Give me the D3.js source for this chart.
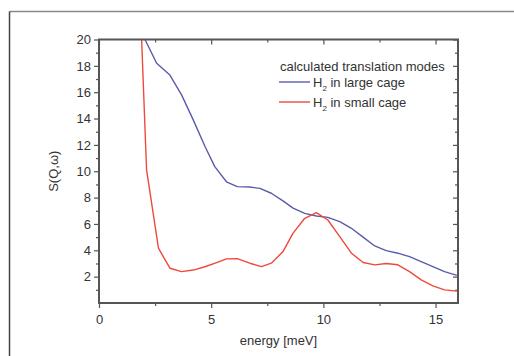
<!DOCTYPE html>
<html>
<head>
<meta charset="utf-8">
<script src="https://cdn.jsdelivr.net/npm/d3@7"></script>
<style>
  html, body { margin: 0; padding: 0; background: #fff; }
  svg { display: block; font-family: "Liberation Sans", Arial, sans-serif; }
</style>
</head>
<body>
<svg id="chart" width="514" height="356"></svg>
<script>
// Calculated translation modes of H2 in clathrate cages
const energyLarge = [2.05, 2.57, 3.16, 3.68, 4.2, 4.72, 5.16, 5.68, 6.16, 6.72, 7.17, 7.68, 8.2, 8.65, 9.17, 9.69, 10.2, 10.73, 11.25, 11.77, 12.29, 12.8, 13.32, 13.84, 14.36, 14.88, 15.4, 15.95];
const sqwLarge    = [20.0, 18.2, 17.3, 15.8, 13.9, 11.9, 10.35, 9.2, 8.83, 8.8, 8.7, 8.33, 7.75, 7.2, 6.8, 6.6, 6.5, 6.18, 5.67, 5.0, 4.33, 3.98, 3.78, 3.52, 3.14, 2.76, 2.38, 2.1];
const energySmall = [1.9, 2.12, 2.65, 3.16, 3.68, 4.2, 4.72, 5.24, 5.68, 6.16, 6.72, 7.24, 7.68, 8.2, 8.65, 9.17, 9.69, 10.2, 10.73, 11.25, 11.77, 12.29, 12.8, 13.32, 13.84, 14.36, 14.88, 15.4, 15.95];
const sqwSmall    = [20.0, 10.1, 4.16, 2.64, 2.38, 2.5, 2.75, 3.07, 3.35, 3.37, 3.02, 2.76, 3.02, 3.9, 5.3, 6.43, 6.86, 6.3, 5.04, 3.78, 3.07, 2.89, 3.0, 2.9, 2.38, 1.75, 1.3, 1.0, 0.9];

const xTicks = [0, 5, 10, 15];
const yTicks = [2, 4, 6, 8, 10, 12, 14, 16, 18, 20];
const legendTitle = "calculated translation modes";
const seriesNames = ["large", "small"];
const seriesColors = ["#5a5caa", "#ee4a3c"];

const svg = d3.select("#chart");
const W = 514, H = 356;
const m = { left: 99, right: 56, top: 39.5, bottom: 53 };
const iw = W - m.left - m.right, ih = H - m.top - m.bottom;

// outer frame (partially visible)
svg.append("line").attr("x1", 9.5).attr("y1", 11.5).attr("x2", W).attr("y2", 11.5)
  .attr("stroke", "#8a8a8a").attr("stroke-width", 1.5);
svg.append("line").attr("x1", 9.5).attr("y1", 11.5).attr("x2", 9.5).attr("y2", H)
  .attr("stroke", "#444").attr("stroke-width", 1.5);

const x = d3.scaleLinear().domain([0, 16]).range([0, iw]);
const y = d3.scaleLinear().domain([0, 20]).range([ih, 0]);

const g = svg.append("g").attr("transform", `translate(${m.left},${m.top})`);

const axisColor = "#555";
const tickFont = "13px";

function styleAxis(sel) {
  sel.select(".domain").remove();
  sel.selectAll("line").attr("stroke", axisColor).attr("stroke-width", 1.2);
  sel.selectAll("text").attr("fill", "#333").style("font-size", tickFont);
}

const xMinor = d3.range(0, 16.01, 2.5).filter(v => v % 5 !== 0);
const yMinor = d3.range(1, 20, 2);

// bottom axis (outward ticks)
g.append("g").attr("transform", `translate(0,${ih})`)
  .call(d3.axisBottom(x).tickValues(xTicks).tickSize(5).tickPadding(7))
  .call(styleAxis);
g.append("g").attr("transform", `translate(0,${ih})`)
  .call(d3.axisBottom(x).tickValues(xMinor).tickSize(3).tickFormat(""))
  .call(styleAxis);

// left axis (outward ticks)
g.append("g")
  .call(d3.axisLeft(y).tickValues(yTicks).tickSize(5).tickPadding(3))
  .call(styleAxis);
g.append("g")
  .call(d3.axisLeft(y).tickValues(yMinor).tickSize(3).tickFormat(""))
  .call(styleAxis);

// top axis (inward ticks)
g.append("g")
  .call(d3.axisTop(x).tickValues(xTicks).tickSize(-5).tickFormat(""))
  .call(styleAxis);
g.append("g")
  .call(d3.axisTop(x).tickValues(xMinor).tickSize(-3).tickFormat(""))
  .call(styleAxis);

// right axis (inward ticks)
g.append("g").attr("transform", `translate(${iw},0)`)
  .call(d3.axisRight(y).tickValues(yTicks).tickSize(-5).tickFormat(""))
  .call(styleAxis);
g.append("g").attr("transform", `translate(${iw},0)`)
  .call(d3.axisRight(y).tickValues(yMinor).tickSize(-3).tickFormat(""))
  .call(styleAxis);

// clip region
svg.append("defs").append("clipPath").attr("id", "plotClip")
  .append("rect").attr("width", iw).attr("height", ih);

const line = d3.line().x(d => x(d[0])).y(d => y(d[1]));
const seriesData = [
  d3.zip(energyLarge, sqwLarge),
  d3.zip(energySmall, sqwSmall)
];
const plot = g.append("g").attr("clip-path", "url(#plotClip)");
seriesData.forEach((d, i) => {
  plot.append("path").datum(d).attr("d", line)
    .attr("fill", "none").attr("stroke", seriesColors[i])
    .attr("stroke-width", 1.4).attr("stroke-linejoin", "round");
});

// plot frame
g.append("rect").attr("width", iw).attr("height", ih)
  .attr("fill", "none").attr("stroke", axisColor).attr("stroke-width", 2);

// axis titles
svg.append("text").attr("x", m.left + iw / 2).attr("y", 345)
  .attr("text-anchor", "middle").style("font-size", "13px").attr("fill", "#333")
  .text("energy [meV]");
svg.append("text")
  .attr("transform", `translate(58,${m.top + ih / 2}) rotate(-90)`)
  .attr("text-anchor", "middle").style("font-size", "13px").attr("fill", "#333")
  .text("S(Q,ω)");

// legend
const lg = svg.append("g");
lg.append("text").attr("x", 280).attr("y", 70.5).style("font-size", "13px").attr("fill", "#333")
  .text(legendTitle);
seriesNames.forEach((name, i) => {
  const ly = 82 + i * 20;
  lg.append("line").attr("x1", 279).attr("x2", 310).attr("y1", ly).attr("y2", ly)
    .attr("stroke", seriesColors[i]).attr("stroke-width", 1.4);
  const t = lg.append("text").attr("x", 313).attr("y", ly + 4.5)
    .style("font-size", "13px").attr("fill", "#333");
  t.append("tspan").text("H");
  t.append("tspan").attr("dy", 4).style("font-size", "8px").text("2");
  t.append("tspan").attr("dy", -4).text(` in ${name} cage`);
});
</script>
</body>
</html>
